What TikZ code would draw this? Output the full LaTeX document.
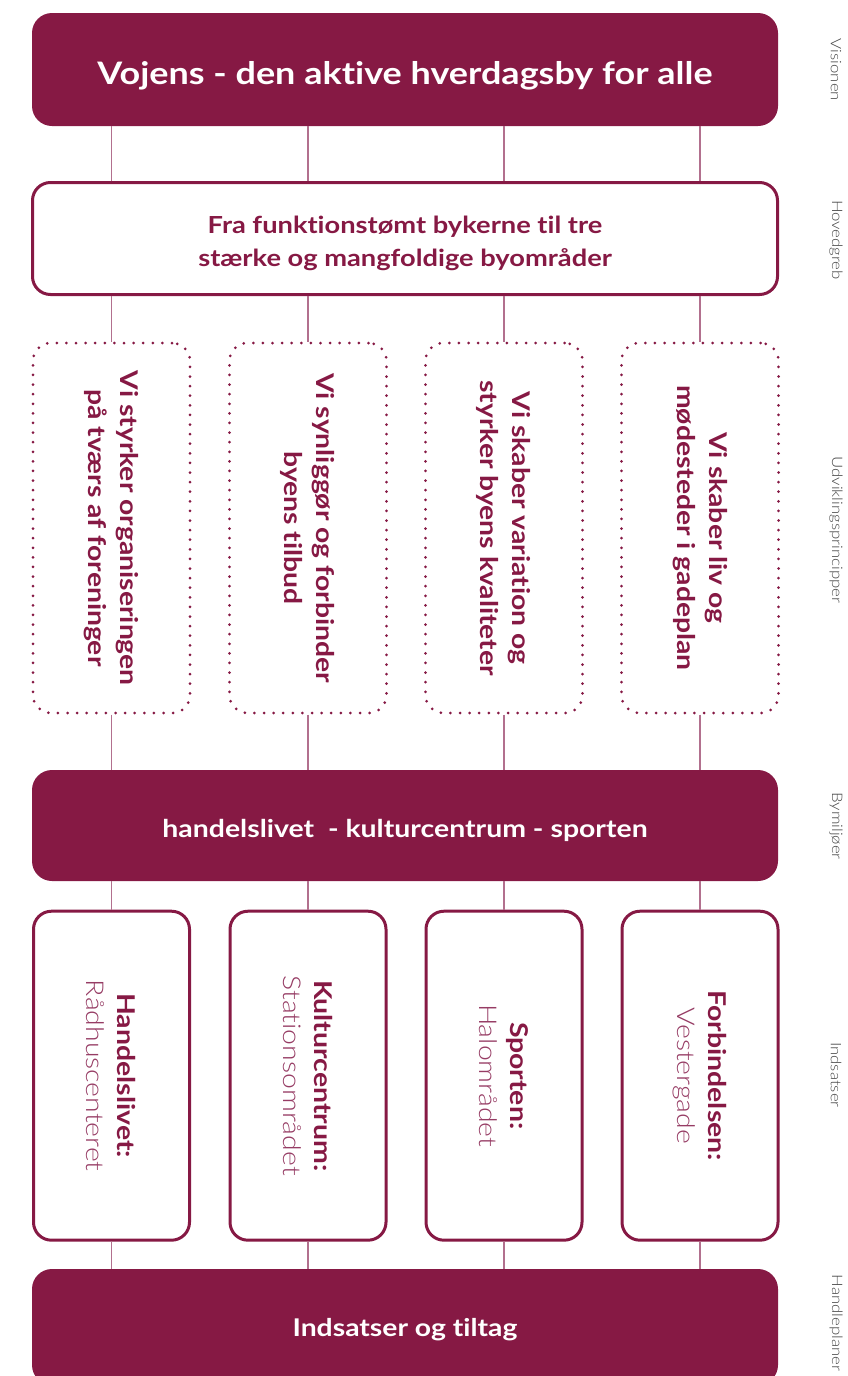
\documentclass[tikz,border=0pt]{standalone}
\usepackage{fontspec}
\setmainfont{Lato}[FakeStretch=1.16, Ligatures=CommonOff]
\newfontfamily\lightfont{Lato Light}[FakeStretch=1.16, Ligatures=CommonOff]
\definecolor{maroon}{RGB}{134,25,68}
\definecolor{conn}{RGB}{178,112,142}
\definecolor{lbl}{RGB}{70,70,70}
\definecolor{lightmaroon}{RGB}{150,60,100}
\begin{document}
\begin{tikzpicture}[x=1pt,y=-1pt,
  solidbar/.style={rectangle, fill=maroon, rounded corners=20pt, inner sep=0pt,
    minimum width=746pt},
  bartext/.style={text=white, inner sep=0pt, font=\bfseries},
  outlinebox/.style={rectangle, draw=maroon, line width=3pt, rounded corners=18pt,
    inner sep=0pt},
  dotbox/.style={rectangle, draw=maroon, line width=3pt, line cap=round,
    dash pattern=on 0pt off 9.6pt, rounded corners=18pt, inner sep=0pt,
    minimum width=157pt, minimum height=370pt},
  indbox/.style={outlinebox, minimum width=156pt, minimum height=329pt},
  rottext/.style={rotate=-90, text=maroon, align=center, inner sep=0pt},
  sidelbl/.style={rotate=-90, text=lbl, font=\lightfont\fontsize{14.5}{16}\selectfont, inner sep=0pt},
  connector/.style={draw=conn, line width=1.4pt}
]
\useasboundingbox (0,0) rectangle (848,1376);
\clip (0,0) rectangle (848,1376);

% Visionen
\node[solidbar, minimum height=113pt] (top) at (405,69.5) {};
\node[bartext, font=\bfseries\fontsize{31}{36}\selectfont] (toptext) at ([yshift=-6pt]top.center)
  {Vojens - den aktive hverdagsby for alle};

% Hovedgreb
\node[outlinebox, minimum width=745pt, minimum height=112pt] (hov) at (405,238.5) {};
\node[text=maroon, align=center, inner sep=0pt, font=\bfseries\fontsize{23.5}{33}\selectfont]
  (hovtext) at ([yshift=-5pt]hov.center)
  {Fra funktionstømt bykerne til tre\\stærke og mangfoldige byområder};

% Udviklingsprincipper
\node[dotbox] (p1) at (111.5,528) {};
\node[dotbox] (p2) at (308,528) {};
\node[dotbox] (p3) at (504,528) {};
\node[dotbox] (p4) at (700,528) {};
\node[rottext, font=\bfseries\fontsize{24.4}{32}\selectfont] (t1) at (p1.center)
  {Vi styrker organiseringen\\på tværs af foreninger};
\node[rottext, font=\bfseries\fontsize{24.4}{32}\selectfont] (t2) at (p2.center)
  {Vi synliggør og forbinder\\byens tilbud};
\node[rottext, font=\bfseries\fontsize{24.4}{32}\selectfont] (t3) at (p3.center)
  {Vi skaber variation og\\styrker byens kvaliteter};
\node[rottext, font=\bfseries\fontsize{24.4}{32}\selectfont] (t4) at (p4.center)
  {Vi skaber liv og\\mødesteder i gadeplan};

% Bymiljoer
\node[solidbar, minimum height=111pt] (by) at (405,825.5) {};
\node[bartext, font=\bfseries\fontsize{24.5}{28}\selectfont] (bytext) at ([yshift=-5pt]by.center)
  {handelslivet\ \ - kulturcentrum - sporten};

% Indsatser
\node[indbox] (i1) at (111.5,1075.7) {};
\node[indbox] (i2) at (308,1075.7) {};
\node[indbox] (i3) at (504,1075.7) {};
\node[indbox] (i4) at (700,1075.7) {};
\node[rottext, font=\fontsize{24.5}{31}\selectfont] (s1) at (i1.center)
  {\bfseries Handelslivet:\\{\lightfont\color{lightmaroon}Rådhuscenteret}};
\node[rottext, font=\fontsize{24.5}{31}\selectfont] (s2) at (i2.center)
  {\bfseries Kulturcentrum:\\{\lightfont\color{lightmaroon}Stationsområdet}};
\node[rottext, font=\fontsize{24.5}{31}\selectfont] (s3) at (i3.center)
  {\bfseries Sporten:\\{\lightfont\color{lightmaroon}Halområdet}};
\node[rottext, font=\fontsize{24.5}{31}\selectfont] (s4) at (i4.center)
  {\bfseries Forbindelsen:\\{\lightfont\color{lightmaroon}Vestergade}};

% Handleplaner
\node[solidbar, minimum height=116pt] (bot) at (405,1327) {};
\node[bartext, font=\bfseries\fontsize{24.4}{28}\selectfont] (bottext) at ([yshift=-3pt]bot.center)
  {Indsatser og tiltag};

% connectors
\foreach \k in {1,2,3,4}{
  \path[connector] (p\k.north |- top.south) -- (p\k.north |- hov.north);
  \path[connector] (p\k.north |- hov.south) -- (p\k.north);
  \path[connector] (p\k.south) -- (p\k.south |- by.north);
  \path[connector] (i\k.north |- by.south) -- (i\k.north);
  \path[connector] (i\k.south) -- (i\k.south |- bot.north);
}

% side labels
\node[sidelbl] (l1) at (836,70) {Visionen};
\node[sidelbl] (l2) at (836,240) {Hovedgreb};
\node[sidelbl] (l3) at (836,530) {Udviklingsprincipper};
\node[sidelbl] (l4) at (836,826) {Bymiljøer};
\node[sidelbl] (l5) at (836,1075) {Indsatser};
\node[sidelbl] (l6) at (836,1323) {Handleplaner};
\end{tikzpicture}
\end{document}
